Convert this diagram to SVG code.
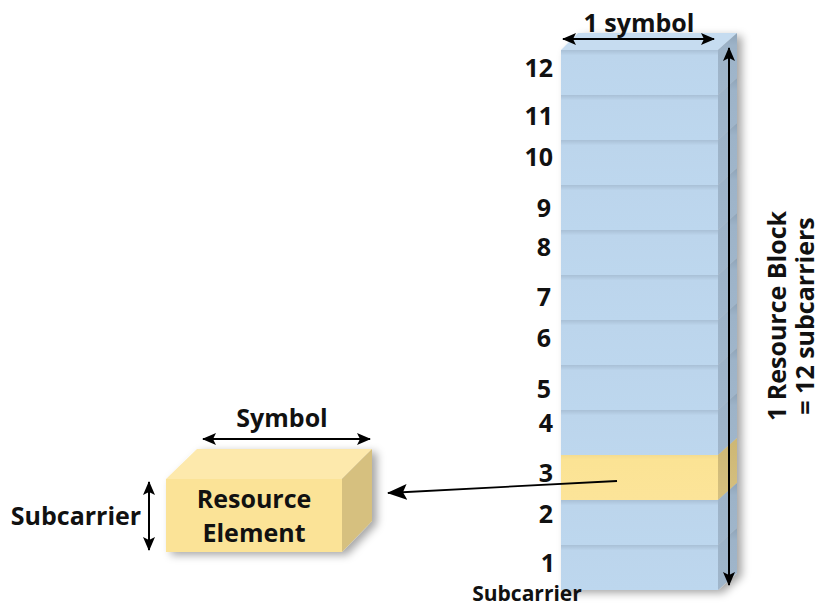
<svg xmlns="http://www.w3.org/2000/svg" width="820" height="607" viewBox="0 0 820 607">
<style>
text{font-family:"Open Sans","Liberation Sans",sans-serif;font-weight:bold;fill:#111;font-size:25px}
.num{text-anchor:end}
.mid{text-anchor:middle}
.fb{fill:url(#gBlue)}
.sb{fill:url(#gBlueSide)}
.fy{fill:url(#gYel)}
.sy{fill:url(#gYelSide)}
.dim{stroke:#000;stroke-width:2;fill:none}
</style>
<defs>
<linearGradient id="gBlue" x1="0" y1="0" x2="0" y2="1">
<stop offset="0" stop-color="#A9C0D6"/><stop offset="0.12" stop-color="#BCD5EC"/><stop offset="1" stop-color="#BDD7EE"/>
</linearGradient>
<linearGradient id="gBlueSide" x1="0" y1="0" x2="0" y2="1">
<stop offset="0" stop-color="#8FA4B8"/><stop offset="0.2" stop-color="#9DB3C8"/><stop offset="1" stop-color="#A0B6CB"/>
</linearGradient>
<linearGradient id="gYel" x1="0" y1="0" x2="0" y2="1">
<stop offset="0" stop-color="#F3DC90"/><stop offset="0.1" stop-color="#FBE394"/><stop offset="1" stop-color="#FCE499"/>
</linearGradient>
<linearGradient id="gYelSide" x1="0" y1="0" x2="0" y2="1">
<stop offset="0" stop-color="#CDB775"/><stop offset="1" stop-color="#D6C07F"/>
</linearGradient>
<filter id="shadow" x="-20%" y="-10%" width="150%" height="130%">
<feDropShadow dx="5" dy="3" stdDeviation="4" flood-color="#000" flood-opacity="0.35"/>
</filter>
<marker id="ah" viewBox="0 0 14 12" refX="13" refY="6" markerWidth="14" markerHeight="12" markerUnits="userSpaceOnUse" orient="auto-start-reverse">
<path d="M0,0 L14,6 L0,12 L3,6 z" fill="#000"/>
</marker>
<marker id="ahBig" viewBox="0 0 20 16" refX="19" refY="8" markerWidth="20" markerHeight="16" markerUnits="userSpaceOnUse" orient="auto">
<path d="M0,0 L20,8 L0,16 L4,8 z" fill="#000"/>
</marker>
</defs>

<g id="resource-block" filter="url(#shadow)">
<polygon points="561,50 578,33 737,33 718,50" fill="#C6DCF0"/>
<g id="sc12"><rect x="561" y="50" width="157" height="45" class="fb"/><polygon points="718,50 737,33 737,78 718,95" class="sb"/></g>
<g id="sc11"><rect x="561" y="95" width="157" height="45" class="fb"/><polygon points="718,95 737,78 737,123 718,140" class="sb"/></g>
<g id="sc10"><rect x="561" y="140" width="157" height="45" class="fb"/><polygon points="718,140 737,123 737,168 718,185" class="sb"/></g>
<g id="sc9"><rect x="561" y="185" width="157" height="45" class="fb"/><polygon points="718,185 737,168 737,213 718,230" class="sb"/></g>
<g id="sc8"><rect x="561" y="230" width="157" height="45" class="fb"/><polygon points="718,230 737,213 737,258 718,275" class="sb"/></g>
<g id="sc7"><rect x="561" y="275" width="157" height="45" class="fb"/><polygon points="718,275 737,258 737,303 718,320" class="sb"/></g>
<g id="sc6"><rect x="561" y="320" width="157" height="45" class="fb"/><polygon points="718,320 737,303 737,348 718,365" class="sb"/></g>
<g id="sc5"><rect x="561" y="365" width="157" height="45" class="fb"/><polygon points="718,365 737,348 737,393 718,410" class="sb"/></g>
<g id="sc4"><rect x="561" y="410" width="157" height="45" class="fb"/><polygon points="718,410 737,393 737,438 718,455" class="sb"/></g>
<g id="sc3"><rect x="561" y="455" width="157" height="45" class="fy"/><polygon points="718,455 737,438 737,483 718,500" class="sy"/></g>
<g id="sc2"><rect x="561" y="500" width="157" height="45" class="fb"/><polygon points="718,500 737,483 737,528 718,545" class="sb"/></g>
<g id="sc1"><rect x="561" y="545" width="157" height="45" class="fb"/><polygon points="718,545 737,528 737,573 718,590" class="sb"/></g>
</g>

<g id="resource-element" filter="url(#shadow)">
<polygon points="166,479 197,449 372,449 342,479" fill="#FDE9AC"/>
<rect x="166" y="479" width="176" height="73" fill="#FBE397"/>
<polygon points="342,479 372,449 372,521 342,552" fill="#D6C07F"/>
</g>
<g id="re-label">
<text x="254" y="508" class="mid">Resource</text>
<text x="254" y="542" class="mid">Element</text>
</g>

<g id="labels">
<text x="639" y="32" class="mid">1 symbol</text>
<text x="553" y="77" class="num">12</text>
<text x="553" y="125" class="num">11</text>
<text x="553" y="166" class="num">10</text>
<text x="551" y="217" class="num">9</text>
<text x="551" y="256" class="num">8</text>
<text x="551" y="306" class="num">7</text>
<text x="551" y="347" class="num">6</text>
<text x="551" y="398" class="num">5</text>
<text x="553" y="432" class="num">4</text>
<text x="553" y="482" class="num">3</text>
<text x="553" y="523" class="num">2</text>
<text x="555" y="572" class="num">1</text>
<text x="527" y="601" class="mid" style="font-size:21px">Subcarrier</text>
<text x="282" y="427" class="mid">Symbol</text>
<text x="76" y="525" class="mid">Subcarrier</text>
<text transform="translate(786,316) rotate(-90)" class="mid">1 Resource Block</text>
<text transform="translate(814,316) rotate(-90)" class="mid">= 12 subcarriers</text>
</g>

<g id="connectors">
<line x1="563" y1="39" x2="714" y2="39" class="dim" marker-start="url(#ah)" marker-end="url(#ah)"/>
<line x1="729" y1="48" x2="729" y2="585" class="dim" marker-start="url(#ah)" marker-end="url(#ah)"/>
<line x1="203" y1="439" x2="370" y2="439" class="dim" marker-start="url(#ah)" marker-end="url(#ah)"/>
<line x1="149" y1="482" x2="149" y2="550" class="dim" marker-start="url(#ah)" marker-end="url(#ah)"/>
<line x1="617" y1="481" x2="388" y2="493" stroke="#000" stroke-width="1.8" marker-end="url(#ahBig)"/>
</g>
</svg>
